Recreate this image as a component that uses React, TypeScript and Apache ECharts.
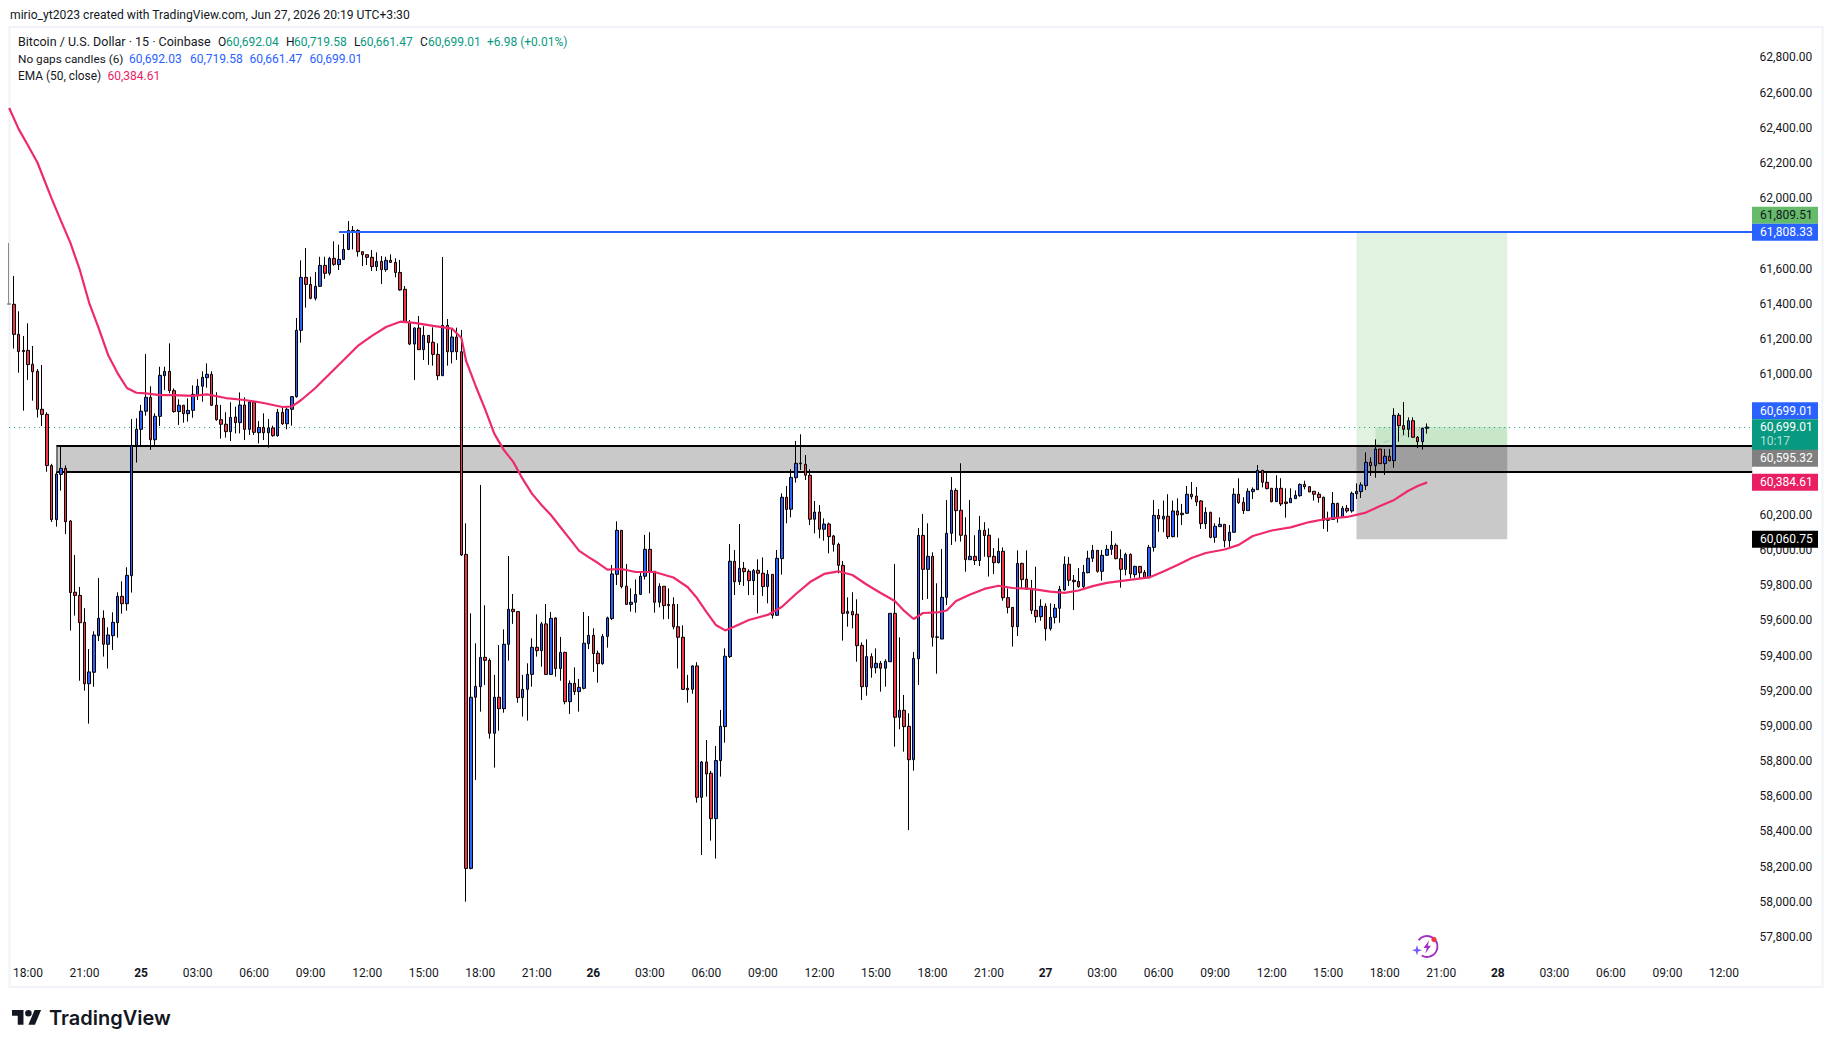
import React, { useEffect, useRef } from "react";
import * as echarts from "echarts";

const FONT = "Roboto, 'Noto Sans', sans-serif";

// Candles: 15-minute bars, Jun 24 17:00 onward. One entry per bar.
const opens = [
  61400,61397,61226,61135,61135,61056,61016,60800,60771,60480,
  60173,60430,60464,60165,59760,59742,59589,59240,59305,59513,
  59612,59464,59513,59587,59737,59695,59854,60595,60686,60789,
  60868,60627,60760,60991,61016,60906,60787,60823,60775,60794,
  60881,60931,60980,60999,60823,60741,60715,60673,60756,60724,
  60824,60686,60839,60667,60697,60667,60694,60650,60783,60718,
  60800,60872,61249,61550,61510,61431,61499,61618,61573,61658,
  61622,61652,61709,61817,61817,61696,61679,61664,61611,61641,
  61594,61647,61635,61578,61482,61294,61171,61262,61139,61220,
  61181,61112,60991,61277,61127,61211,61127,59975,58190,59163,
  59223,59390,59373,58958,59163,59098,59464,59663,59650,59161,
  59208,59293,59447,59428,59580,59293,59614,59326,59418,59138,
  59242,59195,59214,59468,59515,59413,59354,59509,59610,59862,
  60112,59794,59691,59703,59748,59851,60004,59879,59703,59794,
  59691,59691,59564,59504,59214,59208,59341,58594,58795,58731,
  58473,58803,58996,59394,59936,59820,59896,59879,59826,59885,
  59868,59792,59862,59629,59951,60300,60232,60411,60494,60487,
  60425,60175,60216,60118,60148,60080,60032,59913,59640,59650,
  59635,59458,59223,59394,59331,59356,59328,59365,59640,59049,
  59089,58998,58808,59382,60083,59890,59964,59506,59494,59731,
  60095,60339,60226,60084,59945,59964,59940,60112,60084,59964,
  59928,59993,59729,59674,59564,59924,59834,59777,59657,59621,
  59680,59553,59617,59669,59773,59919,59828,59822,59792,59871,
  59953,59998,59879,59970,60004,60027,59951,59890,59975,59860,
  59907,59873,59843,60015,60197,60176,60192,60076,60222,60209,
  60209,60317,60307,60279,60150,60214,60072,60133,60146,60053,
  60101,60317,60271,60224,60332,60343,60453,60385,60351,60275,
  60351,60273,60269,60292,60309,60373,60360,60334,60317,60300,
  60176,60174,60265,60187,60237,60222,60320,60332,60366,60499,
  60480,60574,60491,60533,60508,60766,60707,60686,60735,60641,
  60616,60692.04,
];
const highs = [
  61746,61558,61357,61217,61289,61160,61029,61052,60783,60490,
  60445,60588,60481,60170,59972,59790,59669,59437,59538,59841,
  59657,59561,59646,59760,59822,59902,60745,60749,60825,61114,
  60931,60777,61042,61042,61175,60919,60857,60825,60862,60936,
  60972,61016,61061,61016,60897,60825,60783,60840,60815,60896,
  60868,60853,60849,60733,60777,60745,60707,60802,60809,60811,
  60875,61319,61647,61717,61554,61580,61667,61667,61667,61755,
  61736,61796,61870,61842,61823,61696,61679,61705,61692,61671,
  61667,61681,61658,61649,61501,61308,61266,61330,61273,61222,
  61266,61175,61666,61313,61260,61264,61251,60152,59640,59470,
  60370,59686,59384,59290,59460,59549,59966,59750,59650,59290,
  59356,59498,59634,59591,59693,59648,59617,59506,59422,59259,
  59333,59267,59648,59625,59555,59428,59523,59621,59915,60163,
  60112,59921,59782,59833,59875,60086,60101,59879,59811,59794,
  59782,59731,59693,59572,59290,59345,59362,58801,58920,58744,
  58886,59091,59441,60034,60000,60148,59932,59890,59892,59947,
  59958,59887,59862,60000,60322,60364,60459,60620,60658,60540,
  60459,60279,60256,60180,60156,60086,60042,59938,59731,59760,
  59720,59475,59492,59413,59441,59369,59379,59640,59921,59504,
  59176,59072,59420,60125,60205,60152,59987,59811,60006,60284,
  60415,60351,60493,60186,60284,60084,60194,60158,60123,60011,
  60067,60015,59782,59674,59998,59928,59998,59830,59905,59720,
  59697,59697,59693,59796,59964,59960,59858,59898,59915,59996,
  60029,60000,60000,60029,60108,60038,60004,59985,59981,59911,
  59909,59886,60029,60284,60233,60281,60317,60281,60294,60262,
  60364,60387,60358,60284,60243,60218,60152,60186,60146,60142,
  60351,60408,60300,60351,60356,60483,60455,60440,60351,60425,
  60408,60351,60351,60339,60379,60394,60364,60334,60330,60303,
  60218,60330,60269,60250,60256,60332,60379,60385,60555,60527,
  60629,60574,60574,60574,60806,60779,60841,60754,60754,60648,
  60696,60719.58,
];
const lows = [
  61397,61145,61008,60792,60967,60849,60753,60705,60445,60160,
  60133,60338,60091,59542,59627,59257,59200,59013,59223,59483,
  59394,59326,59432,59502,59638,59655,59758,60497,60588,60764,
  60569,60597,60705,60910,60891,60781,60711,60724,60730,60752,
  60853,60843,60923,60819,60735,60633,60639,60620,60663,60663,
  60625,60654,60654,60606,60625,60582,60644,60644,60711,60686,
  60707,60866,61179,61378,61425,61419,61497,61542,61561,61616,
  61592,61649,61705,61709,61668,61614,61620,61586,61586,61512,
  61582,61633,61550,61474,61294,61165,60966,61137,61080,61052,
  61048,60966,60991,61048,61061,61080,59966,58001,58185,58693,
  59081,59233,58928,58763,58973,59075,59371,59580,59132,59053,
  59030,59223,59394,59337,59293,59290,59280,59257,59123,59068,
  59176,59081,59208,59437,59307,59246,59348,59445,59602,59801,
  59782,59689,59650,59644,59744,59833,59754,59644,59674,59606,
  59608,59549,59327,59204,59132,59183,58564,58266,58598,58348,
  58246,58712,58905,59386,59744,59801,59796,59744,59744,59640,
  59739,59697,59610,59625,59860,60152,60186,60383,60455,60398,
  60142,60095,60067,60053,59981,59991,59868,59485,59564,59555,
  59365,59147,59172,59274,59299,59195,59223,59365,58882,58981,
  58854,58408,58746,59233,59716,59722,59451,59297,59494,59687,
  60029,60048,60048,59877,59945,59915,59909,59962,59849,59864,
  59924,59712,59640,59451,59511,59782,59777,59636,59587,59598,
  59485,59542,59583,59587,59769,59796,59659,59786,59777,59868,
  59932,59871,59826,59966,59972,59947,59786,59856,59839,59843,
  59837,59839,59839,59991,60104,60101,60063,60072,60072,60142,
  60205,60288,60250,60120,60120,60067,60042,60133,60015,60010,
  60099,60262,60205,60222,60290,60341,60356,60345,60271,60273,
  60250,60184,60269,60292,60303,60345,60330,60281,60269,60120,
  60104,60171,60156,60186,60212,60212,60290,60296,60341,60421,
  60411,60491,60427,60504,60468,60616,60654,60641,60639,60580,
  60571,60661.47,
];
const closes = [
  61397,61226,61128,61128,61054,61014,60800,60771,60480,60173,
  60432,60464,60161,59758,59742,59587,59240,59307,59517,59612,
  59464,59517,59589,59737,59695,59856,60593,60686,60789,60868,
  60627,60760,60993,61016,60906,60787,60823,60775,60794,60885,
  60931,60982,60999,60823,60741,60715,60673,60754,60724,60824,
  60686,60841,60669,60697,60667,60694,60650,60783,60718,60800,
  60872,61249,61550,61510,61431,61499,61618,61573,61658,61624,
  61652,61709,61817,61813,61696,61679,61664,61611,61641,61594,
  61647,61635,61578,61478,61294,61171,61262,61139,61220,61179,
  61112,60991,61277,61127,61211,61127,59972,58190,59163,59225,
  59390,59373,58958,59163,59098,59464,59663,59650,59161,59208,
  59293,59447,59428,59580,59293,59612,59326,59418,59138,59242,
  59195,59219,59470,59515,59411,59354,59509,59614,59864,60112,
  59792,59691,59703,59748,59851,60004,59879,59703,59794,59684,
  59684,59564,59504,59208,59206,59341,58594,58795,58727,58473,
  58803,58998,59396,59936,59820,59896,59877,59826,59883,59868,
  59792,59862,59629,59953,60300,60231,60413,60493,60490,60425,
  60175,60216,60118,60148,60076,60032,59913,59640,59650,59631,
  59456,59223,59394,59331,59356,59328,59367,59640,59049,59089,
  58996,58808,59384,60083,59890,59964,59504,59504,59731,60095,
  60339,60224,60084,59945,59964,59940,60112,60082,59962,59928,
  59993,59729,59674,59564,59924,59832,59777,59657,59621,59680,
  59553,59617,59669,59777,59919,59828,59820,59792,59873,59953,
  59998,59879,59970,60004,60027,59951,59890,59975,59864,59907,
  59871,59843,60015,60197,60178,60192,60076,60222,60199,60201,
  60317,60303,60273,60150,60214,60072,60135,60146,60053,60101,
  60317,60269,60224,60334,60345,60453,60385,60349,60275,60351,
  60262,60265,60294,60311,60373,60360,60330,60317,60298,60169,
  60169,60265,60184,60237,60222,60322,60334,60370,60499,60480,
  60574,60491,60533,60508,60766,60707,60686,60735,60641,60616,
  60692,60699.01,
];

// EMA(50) readings: bar number (0 = the first bar) and price.
const emaBars = [
  0,2,4,6,9,11,13,15,17,19,21,23,25,27,29,32,35,39,42,46,50,54,58,60,62,65,68,71,74,77,80,83,86,90,94,96,97,99,101,103,
  105,107,109,111,113,115,117,119,121,123,125,127,130,133,137,141,144,146,148,150,152,154,157,161,164,167,170,173,176,179,
  182,185,188,190,192,194,197,199,201,204,207,210,213,217,221,224,227,230,233,237,242,245,248,251,254,258,261,264,268,272,
  276,280,284,288,291,294,297,299,301,
];
const emaValues = [
  62513,62394,62300,62203,61999,61871,61746,61592,61404,61262,61109,61006,60921,60894,60891,60881,60881,60876,60885,60864,60853,60836,60813,60816,60853,60921,61001,61080,61160,61217,61268,61298,61291,61274,61259,61205,61075,60934,60802,60660,
  60569,60501,60404,60319,60256,60199,60131,60063,59995,59960,59926,59889,59892,59875,59875,59844,59790,59727,59648,59574,59543,59565,59602,59631,59676,59750,59818,59864,59879,59858,
  59804,59756,59710,59654,59608,59642,59645,59656,59710,59747,59779,59797,59784,59779,59764,59756,59770,59795,59813,59827,59844,59878,59915,59955,59983,60003,60029,60080,60111,60129,
  60159,60179,60188,60213,60250,60285,60337,60364,60384.61,
];

const priceLast = 60699.01;
const priceTarget = 61809.51;
const priceEntry = 60595.32;
const priceStop = 60060.75;
const priceHighLine = 61808.33;
const zoneTop = 60590;
const zoneBottom = 60445;

// Axis ticks hidden behind the price tags.
const coveredTicks = [63000, 61800, 60800, 60600, 60400, 57600];

// Price tags on the scale: anchor price (where the tag sits), text, fill, ink.
const tagAnchors = [61903, 61807, 60792, 60656, 60521, 60385, 60061];
const tagTexts = ["61,809.51", "61,808.33", "60,699.01", "60,699.01", "60,595.32", "60,384.61", "60,060.75"];
const tagFills = ["#66bb6a", "#2962ff", "#2962ff", "#089981", "#808080", "#e91e63", "#000000"];
const tagInks = ["#131722", "#ffffff", "#ffffff", "#ffffff", "#ffffff", "#ffffff", "#ffffff"];
const countdownText = "10:17";

const titleText = "mirio_yt2023 created with TradingView.com, Jun 27, 2026 20:19 UTC+3:30";
const TEAL = "#089981";
const BLUE = "#2962ff";
const PINK = "#e91e63";
const INK = "#131722";
const legendRuns: [string, number, number, string, number][] = [
  ["Bitcoin / U.S. Dollar · 15 · Coinbase", 18, 41.5, INK, 12.5],
  ["O", 218, 41.5, INK, 12], ["60,692.04", 226, 41.5, TEAL, 12],
  ["H", 286, 41.5, INK, 12], ["60,719.58", 294, 41.5, TEAL, 12],
  ["L", 354, 41.5, INK, 12], ["60,661.47", 360, 41.5, TEAL, 12],
  ["C", 420, 41.5, INK, 12], ["60,699.01", 428, 41.5, TEAL, 12],
  ["+6.98 (+0.01%)", 487, 41.5, TEAL, 12],
  ["No gaps candles (6)", 18, 58.5, INK, 11.8],
  ["60,692.03", 129, 58.5, BLUE, 12], ["60,719.58", 190, 58.5, BLUE, 12],
  ["60,661.47", 249.5, 58.5, BLUE, 12], ["60,699.01", 309.5, 58.5, BLUE, 12],
  ["EMA (50, close)", 18, 75.5, INK, 11.9], ["60,384.61", 107.5, 75.5, PINK, 12],
];

// Category axis: one slot per 15 minutes from Jun 24 17:00 to Jun 28 13:30.
const categories: string[] = [];
for (let k = 0; k < 371; k++) {
  const minutes = 17 * 60 + k * 15;
  const day = 24 + Math.floor(minutes / 1440);
  const m = minutes % 1440;
  const hh = String(Math.floor(m / 60)).padStart(2, "0");
  const mm = String(m % 60).padStart(2, "0");
  categories.push(`${day} ${hh}:${mm}`);
}

const BAND = 4.711;
const GRID_LEFT = 6.8;
const GRID_TOP = 22.3;
const GRID_HEIGHT = 949.9;
const LAST_SLOT = 370;
const ZONE_START = 10;
const AXIS_X = 1752;

echarts.graphic.registerShape(
  "tvLogo",
  echarts.graphic.extendPath(
    "M14 22H7V11H0V4h14v18zM28 22h-8l7.5-18h8L28 22zM24 8a4 4 0 1 1-8 0a4 4 0 1 1 8 0z",
    {}
  )
);

export default function App() {
  const ref = useRef<HTMLDivElement>(null);

  useEffect(() => {
    document.body.style.margin = "0";
    document.body.style.background = "#fff";
    const chart = echarts.init(ref.current!, undefined, { renderer: "svg" });

    const candleData: any[] = opens.map((o, i) => {
      const v = [o, closes[i], lows[i], highs[i]];
      if (i === 0) {
        return { value: v, itemStyle: { borderColor: "#8a8a8a", borderColor0: "#8a8a8a", color: "#8a8a8a", color0: "#8a8a8a" } };
      }
      return v;
    });

    const makeArea = (name: string, x0: number, x1: number, top: number, bottom: number, itemStyle: any) => ({
      name,
      type: "line",
      data: [],
      silent: true,
      markArea: {
        silent: true,
        itemStyle,
        data: [[{ xAxis: x0, yAxis: top }, { xAxis: x1, yAxis: bottom }]],
      },
    });

    const zoneEdge = { color: "#000000", type: "solid", width: 2 };

    chart.setOption({
      animation: false,
      backgroundColor: "#ffffff",
      textStyle: { fontFamily: FONT },
      grid: {
        left: GRID_LEFT,
        top: GRID_TOP,
        width: BAND * categories.length,
        height: GRID_HEIGHT,
        containLabel: false,
      },
      xAxis: {
        type: "category",
        data: categories,
        boundaryGap: true,
        axisLine: { show: false },
        axisTick: { show: false },
        splitLine: { show: false },
        axisLabel: {
          interval: (idx: number) => (idx - 4) % 12 === 0 && idx >= 4,
          margin: 1,
          verticalAlign: "middle",
          fontFamily: FONT,
          fontSize: 12,
          color: INK,
          formatter: (value: string) => {
            const [d, t] = value.split(" ");
            return t === "00:00" ? `{b|${d}}` : t;
          },
          rich: { b: { fontFamily: FONT, fontSize: 12, fontWeight: "bold", color: INK } },
        },
      },
      yAxis: {
        type: "value",
        position: "right",
        min: 57600,
        max: 63000,
        interval: 200,
        scale: true,
        axisLine: { show: false },
        axisTick: { show: false },
        splitLine: { show: false },
        axisLabel: {
          margin: 5,
          padding: [0, 0, 5, 0],
          fontFamily: FONT,
          fontSize: 12,
          color: INK,
          formatter: (v: number) =>
            coveredTicks.includes(v)
              ? ""
              : v.toLocaleString("en-US", { minimumFractionDigits: 2, maximumFractionDigits: 2 }),
        },
      },
      series: [
        makeArea("Target", 286, 318, priceTarget, priceEntry, { color: "rgba(76,175,80,0.17)" }),
        makeArea("Stop", 286, 318, priceEntry, priceStop, { color: "rgba(0,0,0,0.21)" }),
        makeArea("Open profit", 290, 318, priceLast, priceEntry, { color: "rgba(76,175,80,0.17)" }),
        makeArea("Zone", ZONE_START, LAST_SLOT, zoneTop, zoneBottom, { color: "rgba(0,0,0,0.21)" }),
        {
          name: "Guides",
          type: "line",
          data: [],
          silent: true,
          markLine: {
            silent: true,
            symbol: "none",
            label: { show: false },
            z: 1,
            data: [
              [
                { xAxis: 0, yAxis: priceLast, lineStyle: { color: TEAL, type: [1, 4], width: 1 } },
                { xAxis: LAST_SLOT, yAxis: priceLast },
              ],
              [
                { xAxis: 290, yAxis: priceEntry, lineStyle: { color: "#bdbdbd", type: [5, 4], width: 1 } },
                { xAxis: 301, yAxis: priceLast },
              ],
              [
                { xAxis: ZONE_START, yAxis: zoneTop, lineStyle: zoneEdge },
                { xAxis: LAST_SLOT, yAxis: zoneTop },
              ],
              [
                { xAxis: ZONE_START, yAxis: zoneBottom, lineStyle: zoneEdge },
                { xAxis: LAST_SLOT, yAxis: zoneBottom },
              ],
              [
                { xAxis: ZONE_START, yAxis: zoneTop, lineStyle: { color: "#5a5a5a", type: "solid", width: 1.5 } },
                { xAxis: ZONE_START, yAxis: zoneBottom },
              ],
            ],
          },
        },
        {
          name: "BTCUSD",
          type: "candlestick",
          data: candleData,
          barWidth: 3,
          z: 3,
          itemStyle: {
            color: BLUE,
            color0: "#f23645",
            borderColor: "#000000",
            borderColor0: "#000000",
            borderWidth: 1,
          },
        },
        {
          name: "EMA (50, close)",
          type: "line",
          data: emaBars.map((b, i) => [b, emaValues[i]]),
          showSymbol: false,
          symbol: "none",
          z: 4,
          lineStyle: { color: "#ee2a6b", width: 2.2 },
        },
        {
          name: "Swing high",
          type: "line",
          data: [],
          silent: true,
          markLine: {
            silent: true,
            symbol: "none",
            label: { show: false },
            z: 5,
            data: [
              [
                { xAxis: 70, yAxis: priceHighLine, lineStyle: { color: BLUE, type: "solid", width: 2 } },
                { xAxis: LAST_SLOT, yAxis: priceHighLine },
              ],
            ],
          },
        },
        {
          name: "Price tags",
          type: "custom",
          z: 20,
          silent: true,
          data: tagAnchors.map((p) => [0, p]),
          renderItem: (params: any, api: any) => {
            const idx = params.dataIndex;
            const y = api.coord([0, api.value(1)])[1];
            const tall = idx === 3;
            const h = tall ? 31 : 17;
            const children: any[] = [
              { type: "rect", shape: { x: AXIS_X, y: y - h / 2, width: 66, height: h }, style: { fill: tagFills[idx] } },
              {
                type: "text",
                style: {
                  x: AXIS_X + 8,
                  y: tall ? y - 7.5 : y,
                  text: tagTexts[idx],
                  fill: tagInks[idx],
                  font: `12px ${FONT}`,
                  textAlign: "left",
                  textVerticalAlign: "middle",
                },
              },
            ];
            if (tall) {
              children.push({
                type: "text",
                style: {
                  x: AXIS_X + 8,
                  y: y + 6.5,
                  text: countdownText,
                  fill: "rgba(255,255,255,0.7)",
                  font: `12px ${FONT}`,
                  textAlign: "left",
                  textVerticalAlign: "middle",
                },
              });
            }
            return { type: "group", children };
          },
        },
      ],
      graphic: {
        elements: [
          {
            type: "rect",
            z: -1,
            silent: true,
            shape: { x: 9.5, y: 27, width: 1813, height: 960 },
            style: { fill: "none", stroke: "#f0f3fa", lineWidth: 2 },
          },
          {
            type: "text",
            x: 10,
            y: 15,
            silent: true,
            style: { text: titleText, fill: INK, font: `12.15px ${FONT}`, textVerticalAlign: "middle" },
          },
          ...legendRuns.map(([text, x, y, fill, size]) => ({
            type: "text",
            x,
            y,
            silent: true,
            style: { text, fill, font: `${size}px ${FONT}`, textVerticalAlign: "middle" },
          })),
          {
            type: "tvLogo",
            x: 12,
            y: 1006.7,
            scaleX: 0.82,
            scaleY: 0.82,
            silent: true,
            style: { fill: INK },
          },
          {
            type: "text",
            x: 49,
            y: 1018,
            silent: true,
            style: { text: "TradingView", fill: INK, font: `600 20px Inter, ${FONT}`, textVerticalAlign: "middle" },
          },
          {
            type: "arc",
            silent: true,
            shape: { cx: 1427, cy: 946.5, r: 10.5, startAngle: -2.5, endAngle: 2.1, clockwise: true },
            style: { stroke: "#a12fc4", lineWidth: 1.8, fill: "none" },
          },
          {
            type: "polygon",
            silent: true,
            shape: { points: [[1429, 940.5], [1423.5, 948], [1426.8, 948], [1425.3, 953.5], [1431, 945.8], [1427.8, 945.8]] },
            style: { fill: "#a12fc4" },
          },
          {
            type: "polygon",
            silent: true,
            shape: {
              points: [[1417, 945], [1418.2, 949], [1422, 950.2], [1418.2, 951.4], [1417, 955.5], [1415.8, 951.4], [1412, 950.2], [1415.8, 949]],
            },
            style: { fill: "#7c5cff" },
          },
          {
            type: "circle",
            silent: true,
            shape: { cx: 1434, cy: 939.5, r: 2.6 },
            style: { fill: "#f23645" },
          },
        ],
      },
    });

    return () => chart.dispose();
  }, []);

  return <div ref={ref} style={{ position: "absolute", left: 0, top: 0, width: 1833, height: 1048 }} />;
}
